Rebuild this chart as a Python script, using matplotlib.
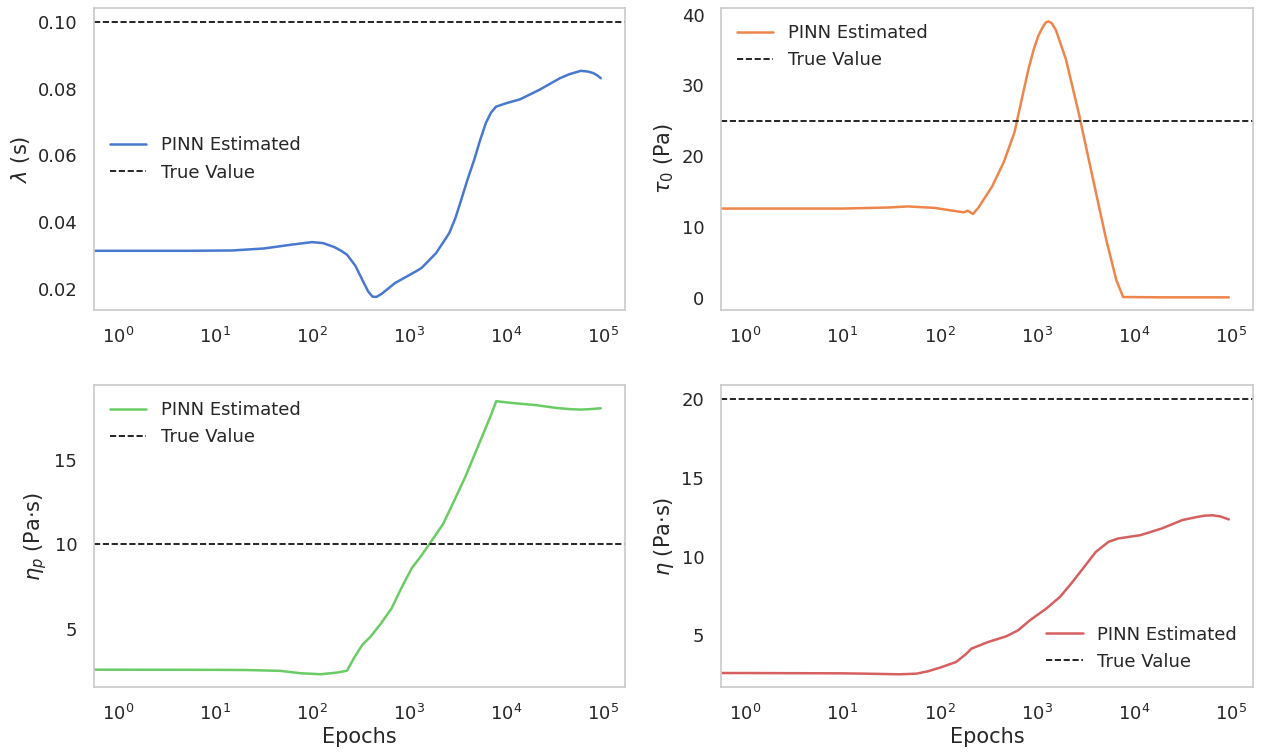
import matplotlib
matplotlib.use("Agg")
import matplotlib.pyplot as plt
import seaborn as sns

sns.set_theme(style="whitegrid")
plt.rcParams["font.family"] = ["DejaVu Sans"]

# Relaxation time lambda (s)
lam_epochs = [0, 1, 5, 15, 32, 60, 100, 130, 170, 200, 230, 280, 330, 380, 420,
              460, 520, 720, 1170, 1350, 1900, 2600, 3000, 3450, 4000, 4700,
              5400, 6200, 7000, 7900, 10000, 14000, 22000, 36000, 45000, 59000,
              70000, 80000, 88000, 95000]
lam_values = [0.0315, 0.0315, 0.0315, 0.0316, 0.0322, 0.0333, 0.0341, 0.0338,
              0.0326, 0.0315, 0.0303, 0.0270, 0.0228, 0.0193, 0.0178, 0.0177,
              0.0186, 0.0219, 0.0253, 0.0264, 0.0308, 0.0368, 0.0412, 0.0467,
              0.0527, 0.0587, 0.0645, 0.0697, 0.0728, 0.0746, 0.0756, 0.0768,
              0.0796, 0.0831, 0.0843, 0.0853, 0.0851, 0.0846, 0.0839, 0.0831]
lam_true = 0.1

# Yield stress tau_0 (Pa)
tau_epochs = [0, 1, 10, 30, 47, 88, 178, 195, 221, 251, 347, 457, 589, 741, 830,
              933, 1040, 1150, 1240, 1320, 1430, 1580, 2000, 2700, 3740, 5200,
              6600, 7760, 20000, 95000]
tau_values = [12.6, 12.6, 12.6, 12.75, 12.9, 12.7, 12.06, 12.3, 11.83, 12.7, 15.7,
              19.1, 23.3, 29.5, 32.5, 35.1, 37.0, 38.2, 38.9, 39.06, 38.8, 37.8,
              33.7, 26.2, 17.2, 8.2, 2.5, 0.1, 0.05, 0.05]
tau_true = 25.0

# Polymer viscosity eta_p (Pa.s)
etap_epochs = [0, 1, 10, 21, 47, 76, 123, 182, 229, 275, 331, 398, 513, 661, 832,
               1070, 1290, 1660, 2240, 2820, 3800, 5130, 6920, 7940, 11200, 20000,
               33000, 45000, 59000, 75000, 95000]
etap_values = [2.56, 2.56, 2.55, 2.54, 2.49, 2.35, 2.29, 2.39, 2.50, 3.32, 4.05,
               4.50, 5.30, 6.20, 7.40, 8.60, 9.20, 10.1, 11.2, 12.4, 14.0, 15.8,
               17.6, 18.5, 18.4, 18.27, 18.1, 18.03, 18.0, 18.03, 18.08]
etap_true = 10.0

# Total viscosity eta (Pa.s)
eta_epochs = [0, 1, 10, 17, 39, 58, 76, 101, 148, 187, 213, 316, 490, 646, 851,
              1260, 1740, 2340, 3090, 4070, 5500, 6900, 11700, 19500, 31600,
              45000, 53700, 65000, 77600, 95000]
eta_values = [2.6, 2.6, 2.58, 2.56, 2.52, 2.56, 2.71, 2.94, 3.3, 3.8, 4.15, 4.57,
              4.94, 5.32, 5.95, 6.7, 7.44, 8.39, 9.35, 10.3, 10.94, 11.15, 11.36,
              11.79, 12.32, 12.52, 12.6, 12.62, 12.55, 12.36]
eta_true = 20.0

colors = ["#4878d0", "#ee854a", "#6acc64", "#d65f5f"]

panels = [
    dict(x=lam_epochs, y=lam_values, true=lam_true, label=r"$\lambda$ (s)",
         ylim=(0.0138, 0.1041), yticks=[0.02, 0.04, 0.06, 0.08, 0.10],
         fmt="{:.2f}", loc="center left", xlabel=False),
    dict(x=tau_epochs, y=tau_values, true=tau_true, label=r"$\tau_0$ (Pa)",
         ylim=(-1.74, 40.95), yticks=[0, 10, 20, 30, 40],
         fmt="{:.0f}", loc="upper left", xlabel=False),
    dict(x=etap_epochs, y=etap_values, true=etap_true, label=r"$\eta_p$ (Pa$\cdot$s)",
         ylim=(1.53, 19.46), yticks=[5, 10, 15],
         fmt="{:.0f}", loc="upper left", xlabel=True),
    dict(x=eta_epochs, y=eta_values, true=eta_true, label=r"$\eta$ (Pa$\cdot$s)",
         ylim=(1.71, 20.9), yticks=[5, 10, 15, 20],
         fmt="{:.0f}", loc="lower right", xlabel=True),
]

fig = plt.figure(figsize=(12.62, 7.53), dpi=100)
rects = [
    [0.0745, 0.5883, 0.4207, 0.4011],
    [0.5713, 0.5883, 0.4216, 0.4011],
    [0.0745, 0.0876, 0.4207, 0.4011],
    [0.5713, 0.0876, 0.4216, 0.4011],
]

for rect, p, c in zip(rects, panels, colors):
    ax = fig.add_axes(rect)
    ax.plot(p["x"], p["y"], color=c, lw=1.8, label="PINN Estimated")
    ax.axhline(p["true"], color="black", ls="--", lw=1.2, label="True Value")
    ax.set_xscale("log")
    ax.set_xlim(10 ** -0.249, 10 ** 5.227)
    ax.set_xticks([1, 10, 100, 1000, 10000, 100000])
    ax.set_xticklabels([r"$10^{%d}$" % k for k in range(6)])
    ax.xaxis.set_minor_locator(matplotlib.ticker.NullLocator())
    ax.set_ylim(*p["ylim"])
    ax.set_yticks(p["yticks"])
    ax.set_yticklabels([p["fmt"].format(v) for v in p["yticks"]])
    ax.grid(False)
    for s in ax.spines.values():
        s.set_color("#cccccc")
        s.set_linewidth(1.25)
    ax.tick_params(labelsize=13, colors="#262626", pad=6)
    ax.set_ylabel(p["label"], fontsize=15, color="#262626")
    if p["xlabel"]:
        ax.set_xlabel("Epochs", fontsize=15, color="#262626", labelpad=2)
    leg = ax.legend(loc=p["loc"], frameon=False, fontsize=13, handlelength=2.0)
    for t in leg.get_texts():
        t.set_color("#262626")

fig.savefig("out.png", dpi=100)
